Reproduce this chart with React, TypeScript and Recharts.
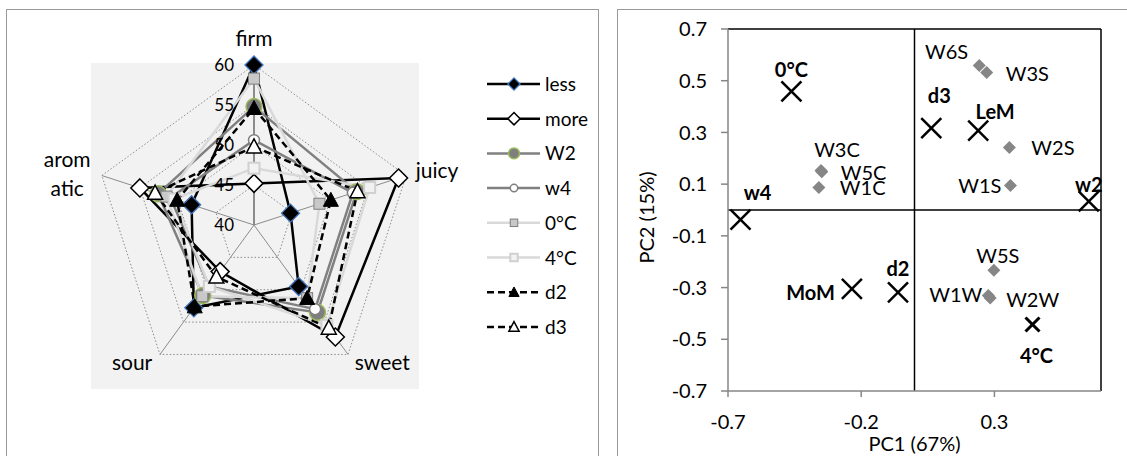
import React from 'react';
import {
  RadarChart, Radar, PolarGrid, PolarAngleAxis, PolarRadiusAxis, Legend,
  ScatterChart, Scatter, XAxis, YAxis, ReferenceLine,
} from 'recharts';

const FONT = 'Lato, "Open Sans", sans-serif';

// ---------- Radar (sensory profile) data ----------
const attributes = ['firm', 'juicy', 'sweet', 'sour', 'aromatic'];
const seriesNames = ['less', 'more', 'W2', 'w4', '0°C', '4°C', 'd2', 'd3'];
const lessValues = [60.0, 44.8, 49.5, 52.8, 48.2];
const moreValues = [45.2, 59.0, 57.3, 47.2, 55.0];
const w2Values = [54.8, 53.5, 53.5, 50.9, 52.6];
const w4Values = [50.6, 53.0, 53.0, 49.5, 51.0];
const c0Values = [58.3, 48.6, 51.3, 51.0, 51.5];
const c4Values = [47.1, 55.2, 55.5, 49.5, 50.5];
const d2Values = [54.6, 50.1, 51.3, 52.6, 50.1];
const d3Values = [49.8, 53.6, 55.9, 48.0, 53.0];
const seriesValues = [lessValues, moreValues, w2Values, w4Values, c0Values, c4Values, d2Values, d3Values];
const radarDomain = [40, 60];

// ---------- PCA data ----------
const pcaNames = ['0°C', 'w4', 'd3', 'LeM', 'w2', 'MoM', 'd2', '4°C'];
const pcaX = [-0.462, -0.653, 0.063, 0.239, 0.654, -0.235, -0.062, 0.443];
const pcaY = [0.459, -0.037, 0.317, 0.307, 0.033, -0.305, -0.319, -0.443];
const sampleNames = ['W3C', 'W5C', 'W1C', 'W6S', 'W3S', 'W2S', 'W1S', 'W5S', 'W1W', 'W2W'];
const sampleX = [-0.351, -0.348, -0.359, 0.243, 0.271, 0.356, 0.360, 0.298, 0.277, 0.284];
const sampleY = [0.153, 0.148, 0.087, 0.559, 0.532, 0.242, 0.095, -0.233, -0.331, -0.340];
const pcaXTicks = [-0.7, -0.2, 0.3];
const pcaYTicks = [-0.7, -0.5, -0.3, -0.1, 0.1, 0.3, 0.5, 0.7];

const radarData = attributes.map((attr, i) => {
  const row: Record<string, any> = { attr };
  seriesValues.forEach((vals, k) => { row[`s${k}`] = vals[i]; });
  return row;
});
const pcaData = pcaNames.map((name, i) => ({ name, x: pcaX[i], y: pcaY[i] }));
const sampleData = sampleNames.map((name, i) => ({ name, x: sampleX[i], y: sampleY[i] }));

// ---------- styles ----------
const seriesStyles: { color: string; dash?: string; marker: string }[] = [
  { color: '#000000', marker: 'diamondFilled' },
  { color: '#000000', marker: 'diamondOpen' },
  { color: '#808080', marker: 'circleGreen' },
  { color: '#808080', marker: 'circleOpen' },
  { color: '#d9d9d9', marker: 'squareGrey' },
  { color: '#d9d9d9', marker: 'squareOpen' },
  { color: '#000000', dash: '7 4', marker: 'triFilled' },
  { color: '#000000', dash: '7 4', marker: 'triOpen' },
];

const labelPlacement: Record<string, [number, number, 'start' | 'middle' | 'end']> = {
  '0°C': [0, -14, 'middle'],
  'w4': [17, -20, 'middle'],
  'd3': [8, -25, 'middle'],
  'LeM': [17, -12, 'middle'],
  'w2': [0, -9, 'middle'],
  'MoM': [-17, 11, 'end'],
  'd2': [0, -16, 'middle'],
  '4°C': [4, 38, 'middle'],
  'W3C': [16, -13, 'middle'],
  'W5C': [19, 8, 'start'],
  'W1C': [21, 7, 'start'],
  'W6S': [-11, -6, 'end'],
  'W3S': [19, 9, 'start'],
  'W2S': [22, 8, 'start'],
  'W1S': [-9, 8, 'end'],
  'W5S': [4, -7, 'middle'],
  'W1W': [-6, 6, 'end'],
  'W2W': [16, 9, 'start'],
};

function drawMarker(kind: string, cx: number, cy: number, s = 1) {
  const dia = (h: number) => `${cx},${cy - h} ${cx + h},${cy} ${cx},${cy + h} ${cx - h},${cy}`;
  const tri = (w: number, h: number) => `${cx},${cy - h * 0.55} ${cx + w / 2},${cy + h * 0.45} ${cx - w / 2},${cy + h * 0.45}`;
  switch (kind) {
    case 'diamondFilled':
      return <polygon points={dia(9 * s)} fill="#000" stroke="#3f72b8" strokeWidth={1.3} />;
    case 'diamondOpen':
      return <polygon points={dia(9 * s)} fill="#fff" stroke="#000" strokeWidth={1.5} />;
    case 'circleGreen':
      return <circle cx={cx} cy={cy} r={8 * s} fill="#7f7f7f" stroke="#9bbb59" strokeWidth={1.5} />;
    case 'circleOpen':
      return <circle cx={cx} cy={cy} r={5.5 * s} fill="#fff" stroke="#7f7f7f" strokeWidth={1.5} />;
    case 'squareGrey':
      return <rect x={cx - 5.5 * s} y={cy - 5.5 * s} width={11 * s} height={11 * s} fill="#c8c8c8" stroke="#7f7f7f" strokeWidth={1} />;
    case 'squareOpen':
      return <rect x={cx - 5.5 * s} y={cy - 5.5 * s} width={11 * s} height={11 * s} fill="#f2f2f2" stroke="#d0d0d0" strokeWidth={2} />;
    case 'triFilled':
      return <polygon points={tri(15 * s, 14 * s)} fill="#000" stroke="#000" strokeWidth={1} />;
    case 'triOpen':
      return <polygon points={tri(15 * s, 14 * s)} fill="#fff" stroke="#000" strokeWidth={1.5} />;
    default:
      return null;
  }
}

// angle-axis label offsets relative to Recharts' tick anchor point
const angleLabelOffsets: Record<string, { dx: number; dy: number; anchor: 'start' | 'middle' | 'end' }> = {
  firm: { dx: 0, dy: -11, anchor: 'middle' },
  juicy: { dx: 2, dy: 5, anchor: 'start' },
  sweet: { dx: 2, dy: 9, anchor: 'start' },
  sour: { dx: -3, dy: 9, anchor: 'end' },
  aromatic: { dx: -27, dy: -6, anchor: 'middle' },
};

const AngleTick = (props: any) => {
  const { x, y, payload } = props;
  const v = String(payload.value);
  const o = angleLabelOffsets[v] ?? { dx: 0, dy: 0, anchor: 'middle' };
  if (v === 'aromatic') {
    return (
      <text x={x + o.dx} y={y + o.dy} textAnchor="middle" fontSize={21} fontFamily={FONT} fill="#000">
        <tspan x={x + o.dx} dy={0}>arom</tspan>
        <tspan x={x + o.dx} dy={29}>atic</tspan>
      </text>
    );
  }
  return (
    <text x={x + o.dx} y={y + o.dy} textAnchor={o.anchor} fontSize={21} fontFamily={FONT} fill="#000">{v}</text>
  );
};

const RadiusTick = (props: any) => {
  const { x, y, payload } = props;
  return (
    <text x={x - 20} y={y} dy="0.36em" textAnchor="end" fontSize={17} fontFamily={FONT} fill="#000">{payload.value}</text>
  );
};

const renderLegend = (props: any) => {
  const payload: any[] = [...(props.payload ?? [])].sort(
    (a: any, b: any) => Number(String(a.dataKey).slice(1)) - Number(String(b.dataKey).slice(1)),
  );
  return (
    <svg width={120} height={300} style={{ display: 'block', overflow: 'visible' }}>
      {payload.map((entry: any, i: number) => {
        const k = Number(String(entry.dataKey).slice(1));
        const st = seriesStyles[k];
        const y = 18 + i * 34.7;
        return (
          <g key={String(entry.dataKey)}>
            <line x1={0} x2={53} y1={y} y2={y} stroke={st.color} strokeWidth={2.5} strokeDasharray={st.dash} />
            {drawMarker(st.marker, 27, y, 0.68)}
            <text x={58} y={y + 7} fontSize={19} fontFamily={FONT} fill="#000">{entry.value}</text>
          </g>
        );
      })}
    </svg>
  );
};

const diamondShape = (props: any) => {
  const { cx, cy, payload } = props;
  const lp = labelPlacement[payload.name] ?? [0, -10, 'middle'];
  const h = 6.5;
  return (
    <g>
      <polygon points={`${cx},${cy - h} ${cx + h},${cy} ${cx},${cy + h} ${cx - h},${cy}`} fill="#868686" />
      <text x={cx + lp[0]} y={cy + lp[1]} textAnchor={lp[2]} fontSize={20} fontFamily={FONT} fill="#000">{payload.name}</text>
    </g>
  );
};

const crossShape = (props: any) => {
  const { cx, cy, payload } = props;
  const small = payload.name === '4°C';
  const h = small ? 7 : 10;
  const lp = labelPlacement[payload.name] ?? [0, -12, 'middle'];
  return (
    <g>
      <line x1={cx - h} y1={cy - h} x2={cx + h} y2={cy + h} stroke="#000" strokeWidth={small ? 3 : 2.5} />
      <line x1={cx - h} y1={cy + h} x2={cx + h} y2={cy - h} stroke="#000" strokeWidth={small ? 3 : 2.5} />
      <text x={cx + lp[0]} y={cy + lp[1]} textAnchor={lp[2]} fontSize={20} fontWeight="bold" fontFamily={FONT} fill="#000">{payload.name}</text>
    </g>
  );
};

const XTitle = (props: any) => {
  const vb = props.viewBox;
  return (
    <text x={vb.x + vb.width / 2} y={vb.y + 60} textAnchor="middle" fontSize={20} fontFamily={FONT} fill="#000">PC1 (67%)</text>
  );
};

const YTitle = (props: any) => {
  const vb = props.viewBox;
  const x = 41;
  const y = vb.y + vb.height / 2 + 7.5;
  return (
    <text x={x} y={y} transform={`rotate(-90 ${x} ${y})`} textAnchor="middle" fontSize={20} fontFamily={FONT} fill="#000">PC2 (15%)</text>
  );
};

export default function App() {
  return (
    <div style={{ position: 'absolute', left: 0, top: 0, width: 1127, height: 456, overflow: 'hidden', background: '#fff', fontFamily: FONT }}>
      {/* panel frames */}
      <div style={{ position: 'absolute', left: 6, top: 9, width: 593, height: 480, border: '1.5px solid #9a9a9a', boxSizing: 'border-box' }} />
      <div style={{ position: 'absolute', left: 617, top: 9, width: 560, height: 480, border: '1.5px solid #9a9a9a', boxSizing: 'border-box' }} />
      {/* radar plot-area background */}
      <div style={{ position: 'absolute', left: 91, top: 63, width: 328, height: 326, background: '#f2f2f2' }} />

      <div style={{ position: 'absolute', left: 0, top: 0 }}>
        <RadarChart width={600} height={456} data={radarData} cx={254} cy={225} outerRadius={160}
          margin={{ top: 0, right: 0, bottom: 0, left: 0 }}>
          <PolarGrid gridType="polygon" radialLines={false} stroke="#8c8c8c" strokeDasharray="1.5 2" />
          <PolarGrid gridType="polygon" radialLines polarRadius={[]} stroke="#8c8c8c" />
          <PolarAngleAxis dataKey="attr" tick={<AngleTick />} tickLine={false} axisLine={false} />
          <PolarRadiusAxis angle={90} type="number" domain={radarDomain} tickCount={5} tick={<RadiusTick />}
            axisLine={{ stroke: '#8c8c8c', strokeWidth: 2 }} tickLine={false} />
          {seriesNames.map((name, k) => {
            const st = seriesStyles[k];
            return (
              <Radar key={name} name={name} dataKey={`s${k}`} stroke={st.color} strokeWidth={2.5}
                strokeDasharray={st.dash} fill="none" fillOpacity={0} isAnimationActive={false}
                dot={(p: any) => <g key={`dot-${k}-${p.index}`}>{drawMarker(st.marker, p.cx, p.cy)}</g>} />
            );
          })}
          <Legend layout="vertical" align="right" verticalAlign="top" content={renderLegend}
            wrapperStyle={{ left: 487, top: 66, right: 'auto', width: 120, height: 300 }} />
        </RadarChart>
      </div>

      <div style={{ position: 'absolute', left: 613, top: 9 }}>
        <ScatterChart width={514} height={447} margin={{ top: 20, right: 26, bottom: 0, left: 0 }}>
          <XAxis type="number" dataKey="x" domain={[-0.7, 0.7]} ticks={pcaXTicks} height={65}
            axisLine={{ stroke: '#868686', strokeWidth: 1.5 }} tickLine={{ stroke: '#868686', strokeWidth: 1.5 }}
            tickSize={6} tickMargin={18} tick={{ fill: '#000', fontSize: 20, fontFamily: FONT }}
            interval={0} label={XTitle} />
          <YAxis type="number" dataKey="y" domain={[-0.7, 0.7]} ticks={pcaYTicks} width={115}
            axisLine={{ stroke: '#868686', strokeWidth: 1.5 }} tickLine={{ stroke: '#868686', strokeWidth: 1.5 }}
            tickSize={7} tickMargin={14} tick={{ fill: '#000', fontSize: 20, fontFamily: FONT }}
            interval={0} label={YTitle} />
          <ReferenceLine y={0.7} stroke="#000" strokeWidth={1.5} />
          <ReferenceLine x={0.7} stroke="#000" strokeWidth={1.5} />
          <ReferenceLine x={0} stroke="#000" strokeWidth={1.5} />
          <ReferenceLine y={0} stroke="#000" strokeWidth={1.5} />
          <Scatter data={sampleData} shape={diamondShape} isAnimationActive={false} />
          <Scatter data={pcaData} shape={crossShape} isAnimationActive={false} />
        </ScatterChart>
      </div>
    </div>
  );
}
